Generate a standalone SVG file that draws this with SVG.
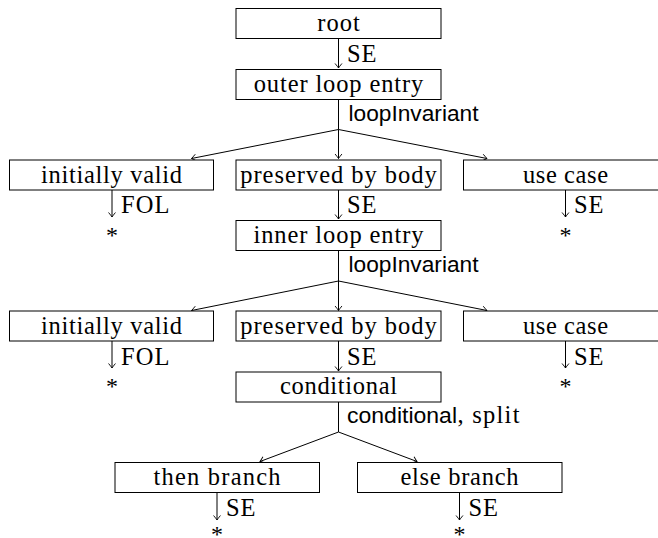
<svg xmlns="http://www.w3.org/2000/svg" width="658" height="538" viewBox="0 0 658 538">
  <style>
    .box { fill: #ffffff; stroke: #000000; stroke-width: 1; }
    .nt { font-family: "Liberation Serif", "Times New Roman", serif; font-size: 24.5px; fill: #000000; text-anchor: middle; }
    .lbl { font-family: "Liberation Serif", "Times New Roman", serif; font-size: 24.5px; fill: #000000; }
    .sans { font-family: "Liberation Sans", Arial, sans-serif; font-size: 21.5px; fill: #000000; }
    .star { font-family: "Liberation Serif", "Times New Roman", serif; font-size: 24px; fill: #000000; text-anchor: middle; }
    .edge { fill: none; stroke: #000000; stroke-width: 1; marker-end: url(#arr); }
    .plain { fill: none; stroke: #000000; stroke-width: 1; }
  </style>
  <defs>
    <marker id="arr" markerUnits="userSpaceOnUse" markerWidth="10" markerHeight="10" viewBox="-6 -5 8 10" refX="0" refY="0" orient="auto">
      <path d="M-4.2,-3.2 Q-1.4,-0.9 0,0 Q-1.4,0.9 -4.2,3.2" fill="none" stroke="#000000" stroke-width="0.9" stroke-linecap="round"/>
    </marker>
  </defs>

  <!-- connectors -->
  <g id="connectors">
    <!-- root -> outer loop entry -->
    <line class="edge" x1="338.5" y1="38.5" x2="338.5" y2="68"/>
    <text class="lbl" x="347" y="62" textLength="29.5" lengthAdjust="spacing">SE</text>

    <!-- outer loop entry split -->
    <line class="plain" x1="338.5" y1="99.5" x2="338.5" y2="129.5"/>
    <text class="sans" x="348.5" y="121" textLength="130" lengthAdjust="spacingAndGlyphs">loopInvariant</text>
    <line class="edge" x1="338.5" y1="129.5" x2="191.5" y2="158.5"/>
    <line class="edge" x1="338.5" y1="129.5" x2="338.5" y2="158.5"/>
    <line class="edge" x1="338.5" y1="129.5" x2="487" y2="158.5"/>

    <!-- first row leaves -->
    <line class="edge" x1="112" y1="190" x2="112" y2="217"/>
    <text class="lbl" x="121" y="213" textLength="48.5" lengthAdjust="spacing">FOL</text>
    <text class="star" x="112" y="243">*</text>

    <line class="edge" x1="338.5" y1="190" x2="338.5" y2="219"/>
    <text class="lbl" x="347" y="213" textLength="29.5" lengthAdjust="spacing">SE</text>

    <line class="edge" x1="565.5" y1="190" x2="565.5" y2="217"/>
    <text class="lbl" x="574" y="213" textLength="29.5" lengthAdjust="spacing">SE</text>
    <text class="star" x="565.5" y="243">*</text>

    <!-- inner loop entry split -->
    <line class="plain" x1="338.5" y1="250.5" x2="338.5" y2="281"/>
    <text class="sans" x="348.5" y="272" textLength="130" lengthAdjust="spacingAndGlyphs">loopInvariant</text>
    <line class="edge" x1="338.5" y1="281" x2="191.5" y2="310.5"/>
    <line class="edge" x1="338.5" y1="281" x2="338.5" y2="310.5"/>
    <line class="edge" x1="338.5" y1="281" x2="487" y2="310.5"/>

    <!-- second row leaves -->
    <line class="edge" x1="112" y1="341" x2="112" y2="368"/>
    <text class="lbl" x="121" y="364.5" textLength="48.5" lengthAdjust="spacing">FOL</text>
    <text class="star" x="112" y="394">*</text>

    <line class="edge" x1="338.5" y1="341" x2="338.5" y2="371"/>
    <text class="lbl" x="347" y="364.5" textLength="29.5" lengthAdjust="spacing">SE</text>

    <line class="edge" x1="565.5" y1="341" x2="565.5" y2="368"/>
    <text class="lbl" x="574" y="364.5" textLength="29.5" lengthAdjust="spacing">SE</text>
    <text class="star" x="565.5" y="394">*</text>

    <!-- conditional split -->
    <line class="plain" x1="338.5" y1="402" x2="338.5" y2="432"/>
    <text class="sans" x="347" y="422.7" textLength="110" lengthAdjust="spacingAndGlyphs">conditional</text>
    <text class="lbl" x="457.5" y="422.7" textLength="62" lengthAdjust="spacing">, split</text>
    <line class="edge" x1="338.5" y1="432" x2="260" y2="461.5"/>
    <line class="edge" x1="338.5" y1="432" x2="417" y2="461.5"/>

    <!-- branch leaves -->
    <line class="edge" x1="217" y1="492.5" x2="217" y2="520"/>
    <text class="lbl" x="226" y="515.5" textLength="29.5" lengthAdjust="spacing">SE</text>
    <text class="star" x="217" y="542">*</text>

    <line class="edge" x1="459.5" y1="492.5" x2="459.5" y2="520"/>
    <text class="lbl" x="468.5" y="515.5" textLength="29.5" lengthAdjust="spacing">SE</text>
    <text class="star" x="459.5" y="542">*</text>
  </g>

  <!-- nodes -->
  <g id="root">
    <rect class="box" x="236" y="8.5" width="205" height="30"/>
    <text class="nt" x="338.5" y="31" textLength="42.7" lengthAdjust="spacing">root</text>
  </g>
  <g id="outer-loop-entry">
    <rect class="box" x="236" y="69.5" width="205" height="30"/>
    <text class="nt" x="338.5" y="91.5" textLength="169.5" lengthAdjust="spacing">outer loop entry</text>
  </g>
  <g id="outer-initially-valid">
    <rect class="box" x="9.5" y="160" width="204" height="30"/>
    <text class="nt" x="111.5" y="182.5" textLength="141" lengthAdjust="spacing">initially valid</text>
  </g>
  <g id="outer-preserved-by-body">
    <rect class="box" x="236" y="160" width="205" height="30"/>
    <text class="nt" x="338.5" y="182.5" textLength="196.5" lengthAdjust="spacing">preserved by body</text>
  </g>
  <g id="outer-use-case">
    <rect class="box" x="463.5" y="160" width="205" height="30"/>
    <text class="nt" x="565.5" y="182.5" textLength="85" lengthAdjust="spacing">use case</text>
  </g>
  <g id="inner-loop-entry">
    <rect class="box" x="236" y="220.5" width="205" height="30"/>
    <text class="nt" x="338.5" y="242.5" textLength="170" lengthAdjust="spacing">inner loop entry</text>
  </g>
  <g id="inner-initially-valid">
    <rect class="box" x="9.5" y="311" width="204" height="30"/>
    <text class="nt" x="111.5" y="333.5" textLength="141" lengthAdjust="spacing">initially valid</text>
  </g>
  <g id="inner-preserved-by-body">
    <rect class="box" x="236" y="311" width="205" height="30"/>
    <text class="nt" x="338.5" y="333.5" textLength="196.5" lengthAdjust="spacing">preserved by body</text>
  </g>
  <g id="inner-use-case">
    <rect class="box" x="463.5" y="311" width="205" height="30"/>
    <text class="nt" x="565.5" y="333.5" textLength="85" lengthAdjust="spacing">use case</text>
  </g>
  <g id="conditional">
    <rect class="box" x="236" y="372" width="205" height="30"/>
    <text class="nt" x="338.5" y="394" textLength="117" lengthAdjust="spacing">conditional</text>
  </g>
  <g id="then-branch">
    <rect class="box" x="115" y="462.5" width="204.5" height="30"/>
    <text class="nt" x="217" y="485" textLength="127" lengthAdjust="spacing">then branch</text>
  </g>
  <g id="else-branch">
    <rect class="box" x="357.5" y="462.5" width="204.5" height="30"/>
    <text class="nt" x="459.5" y="485" textLength="118" lengthAdjust="spacing">else branch</text>
  </g>
</svg>
